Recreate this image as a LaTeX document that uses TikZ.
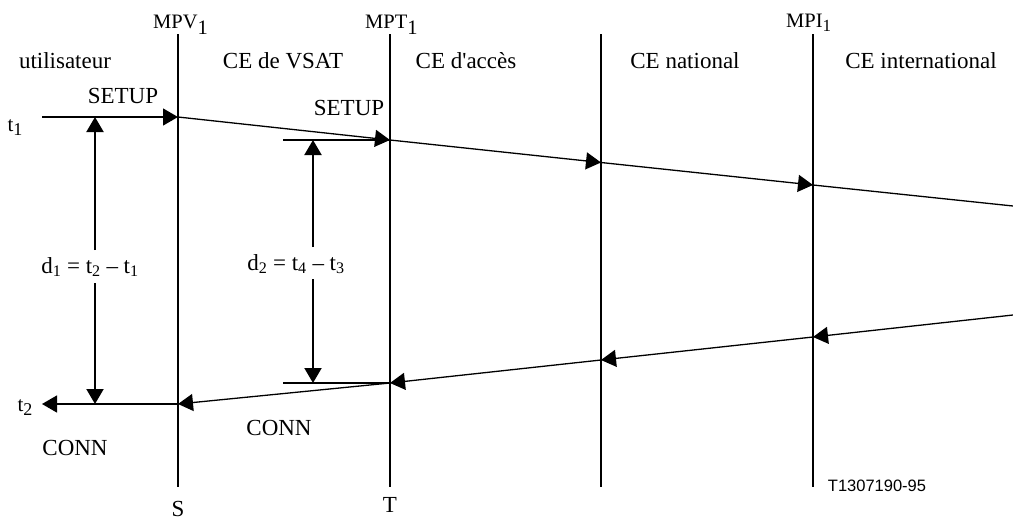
\documentclass[tikz,border=0pt]{standalone}
\usepackage{fontspec}
\setmainfont{Liberation Serif}[Ligatures=TeXOff]
\newfontfamily\arialf{Liberation Sans}
\usetikzlibrary{arrows.meta}
\newcommand{\lowsub}[2]{\raisebox{-#1pt}{#2}}
\begin{document}
\begin{tikzpicture}[x=1pt,y=-1pt,
  lbl/.style={font=\fontsize{23}{27}\selectfont, inner sep=0pt},
  mplbl/.style={font=\fontsize{20.5}{24}\selectfont, inner sep=0pt, anchor=base west},
  vline/.style={line width=2pt},
  msg/.style={line width=1.3pt},
  tip/.style={-{Triangle[length=15pt,width=17pt]}},
  darr/.style={line width=2pt,-{Triangle[length=15pt,width=17pt]}},
  tick/.style={line width=2pt}
]
\useasboundingbox (0,0) rectangle (1013,520);
% lines
\coordinate (Vt) at (178,34); \coordinate (Vb) at (178,487);
\coordinate (Tt) at (390,34); \coordinate (Tb) at (390,487);
\coordinate (Nt) at (601,34); \coordinate (Nb) at (601,487);
\coordinate (It) at (813,34); \coordinate (Ib) at (813,487);
\draw[vline] (Vt) -- (Vb);
\draw[vline] (Tt) -- (Tb);
\draw[vline] (Nt) -- (Nb);
\draw[vline] (It) -- (Ib);
% top labels
\node[mplbl] (mpv) at (153,28.5) {MPV\lowsub{6}{1}};
\node[mplbl] (mpt) at (365,28.5) {MPT\lowsub{6}{1}};
\node[mplbl] (mpi) at (786,27) {MPI{\fontsize{17}{20}\selectfont\lowsub{4}{1}}};
\node[lbl] (u) at (65,61) {utilisateur};
\node[lbl] (vsat) at (283,61) {CE de VSAT};
\node[lbl] (acc) at (466,61) {CE d'accès};
\node[lbl] (nat) at (685,61) {CE national};
\node[lbl] (int) at (921,61) {CE international};
% SETUP path
\coordinate (s0) at (42,117);
\coordinate (s1) at (178,117);
\coordinate (s2) at (390,140);
\coordinate (s3) at (601,162.5);
\coordinate (s4) at (813,185);
\coordinate (s5) at (1013,206);
\draw[msg,tip] (s0) -- (s1);
\draw[msg,tip] (s1) -- (s2);
\draw[msg,tip] (s2) -- (s3);
\draw[msg,tip] (s3) -- (s4);
\draw[msg] (s4) -- (s5);
\node[lbl,font=\fontsize{21}{25}\selectfont] (t1) at (15,128) {t{\fontsize{18}{20}\selectfont\lowsub{4}{1}}};
\node[lbl] (setup1) at (123,96) {SETUP};
\node[lbl] (setup2) at (349,108) {SETUP};
% CONN path
\coordinate (c5) at (1013,315);
\coordinate (c4) at (813,337);
\coordinate (c3) at (601,360);
\coordinate (c2) at (390,383);
\coordinate (c1) at (178,404);
\coordinate (c0) at (42,404);
\draw[msg,tip] (c5) -- (c4);
\draw[msg,tip] (c4) -- (c3);
\draw[msg,tip] (c3) -- (c2);
\draw[msg,tip] (c2) -- (c1);
\draw[msg,tip] (c1) -- (c0);
\node[lbl,font=\fontsize{21}{25}\selectfont] (t2) at (25,408) {t{\fontsize{18}{20}\selectfont\lowsub{4}{2}}};
\node[lbl] (conn1) at (75,448) {CONN};
\node[lbl] (conn2) at (279,428) {CONN};
% d1
\node[lbl] (d1) at (90,267) {d\textsubscript{1} = t\textsubscript{2} – t\textsubscript{1}};
\coordinate (d1u) at (95,117);
\coordinate (d1d) at (95,404);
\draw[darr] (95,250) -- (d1u);
\draw[darr] (95,283) -- (d1d);
% d2
\coordinate (h1) at (283,140);
\coordinate (h2) at (283,383);
\draw[tick] (h1) -- (s2);
\draw[tick] (h2) -- (c2);
\node[lbl] (d2) at (296,264) {d\textsubscript{2} = t\textsubscript{4} – t\textsubscript{3}};
\draw[darr] (313,247) -- (313,140);
\draw[darr] (313,279) -- (313,383);
% bottom labels
\node[lbl] (S) at (178,509) {S};
\node[lbl] (T) at (390,505) {T};
\node[font=\arialf\fontsize{16.5}{19}\selectfont, inner sep=0pt] (ref) at (877,486) {T1307190-95};
\end{tikzpicture}
\end{document}
